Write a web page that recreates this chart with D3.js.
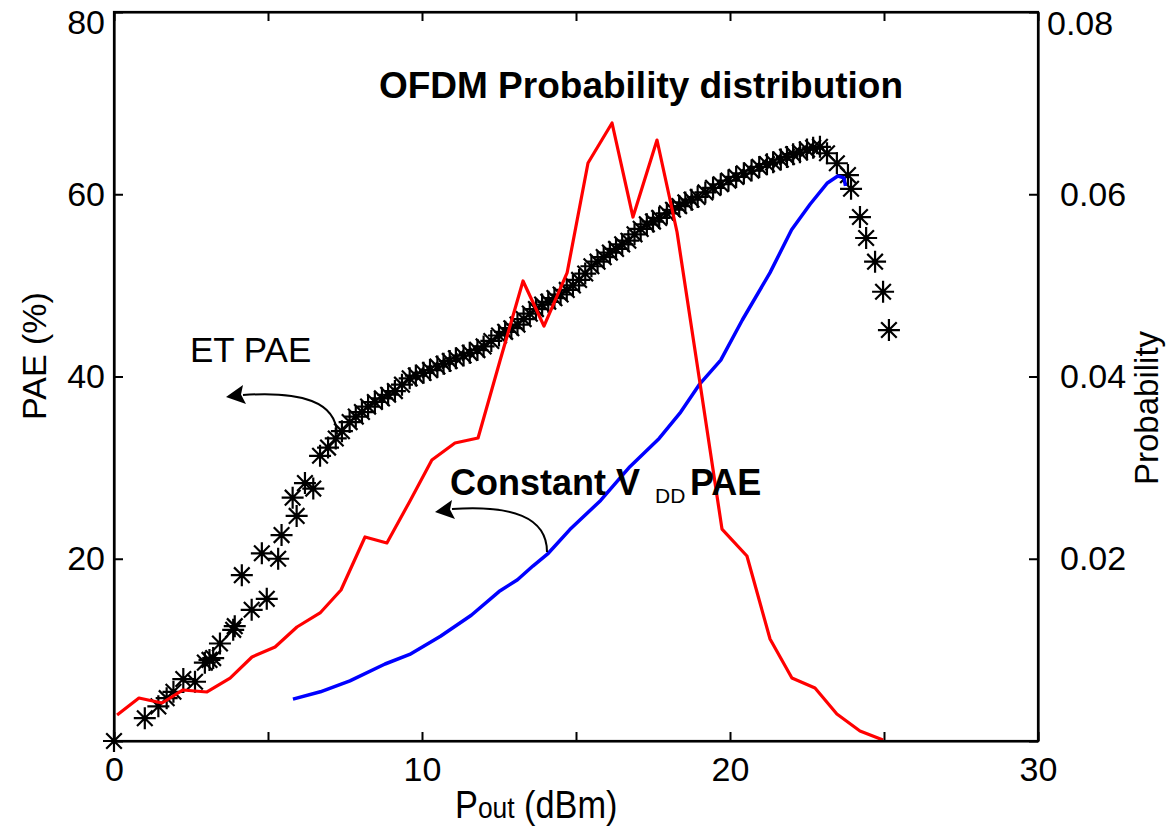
<!DOCTYPE html>
<html>
<head>
<meta charset="utf-8">
<script src="https://cdn.jsdelivr.net/npm/d3@7"></script>
<style>
  body { margin: 0; background: #fff; }
  svg { display: block; font-family: Arial, 'Liberation Sans', sans-serif; }
</style>
</head>
<body>
<div id="chart"></div>
<script>
// ET PAE measurement (stars)
const etPout = [0, 1.0, 1.44, 1.71, 1.93, 2.25, 2.63, 2.95, 3.1, 3.22, 3.44, 3.87, 3.92, 4.47, 4.96,
  4.15, 4.8, 5.33, 5.44, 5.93, 5.8, 6.2, 6.47,
  6.69, 6.95, 7.2, 7.4, 7.65, 7.85, 8.05, 8.25, 8.47, 8.7, 8.9, 9.12, 9.35, 9.6, 9.8, 10.05,
  10.26, 10.5, 10.7, 10.9, 11.1, 11.35, 11.55, 11.8, 12.0, 12.25, 12.5, 12.7, 12.9, 13.1,
  13.3, 13.5, 13.7, 13.9, 14.1, 14.3, 14.5, 14.7, 14.9, 15.1, 15.3, 15.5, 15.7, 15.9, 16.1,
  16.3, 16.5, 16.7, 16.9, 17.1, 17.3, 17.5, 17.7, 17.95, 18.15, 18.35, 18.55, 18.75, 18.95,
  19.2, 19.45, 19.7, 19.95, 20.2, 20.45, 20.7, 20.95, 21.2, 21.4, 21.65, 21.85, 22.05, 22.27,
  22.5, 22.7, 22.92, 23.15, 23.47, 23.83, 23.93, 24.22, 24.42, 24.71, 24.97, 25.16];
const etPae = [0, 2.5, 3.8, 4.7, 5.4, 6.8, 6.5, 8.6, 8.9, 9.1, 10.7, 12.2, 12.6, 14.4, 15.6,
  18.2, 20.6, 20.0, 22.6, 24.7, 26.7, 28.3, 27.7,
  31.3, 32.2, 33.2, 34.0, 35.0, 35.6, 36.1, 36.7, 37.2, 37.6, 38.0, 38.4, 39.1, 39.8, 40.1, 40.4,
  40.7, 41.1, 41.4, 41.7, 42.0, 42.3, 42.6, 42.9, 43.3, 43.9, 44.5, 44.9, 45.3, 45.7,
  46.3, 46.9, 47.4, 47.9, 48.2, 48.6, 49.0, 49.5, 50.0, 50.6, 51.3, 52.1, 52.6, 53.1, 53.6,
  54.0, 54.5, 54.9, 55.6, 56.2, 56.7, 57.0, 57.4, 57.9, 58.3, 58.7, 59.1, 59.4, 59.7,
  60.2, 60.7, 61.1, 61.5, 61.9, 62.3, 62.6, 63.0, 63.3, 63.5, 63.8, 64.1, 64.4, 64.6,
  64.9, 65.1, 65.2, 64.5, 63.4, 62.1, 60.6, 57.5, 55.2, 52.6, 49.3, 45.1];

// Constant VDD PAE (blue)
const vddPout = [5.81, 6.7, 7.66, 8.8, 9.6, 10.6, 11.6, 12.5, 13.1, 13.6, 14.1, 14.8, 15.8, 16.75,
  17.7, 18.4, 19.0, 19.7, 20.4, 21.3, 22.0, 22.6, 23.15, 23.5, 23.7, 23.75];
const vddPae = [4.6, 5.4, 6.6, 8.45, 9.5, 11.5, 13.8, 16.4, 17.7, 19.2, 20.6, 23.2, 26.4, 30.1,
  33.2, 36.1, 39.1, 41.8, 46.2, 51.4, 56.1, 58.9, 61.2, 62.0, 61.8, 60.9];

// OFDM probability distribution (red, right axis)
const probPout = [0.1, 0.81, 1.56, 2.24, 3.02, 3.77, 4.48, 5.23, 5.94, 6.69, 7.37, 8.15, 8.86, 9.61,
  10.32, 11.07, 11.82, 12.53, 13.28, 13.96, 14.71, 15.39, 16.17, 16.85, 17.63, 18.28, 19.03,
  19.74, 20.55, 21.3, 22.01, 22.76, 23.47, 24.22, 24.97];
const probValue = [0.00285, 0.00472, 0.00417, 0.0056, 0.00538, 0.00691, 0.00922, 0.01032, 0.01251,
  0.01405, 0.01657, 0.02239, 0.02173, 0.02634, 0.03084, 0.0327, 0.03325, 0.0417, 0.05048,
  0.04554, 0.05136, 0.06343, 0.06782, 0.0575, 0.06595, 0.05586, 0.03918, 0.02326, 0.0203,
  0.01119, 0.00691, 0.00582, 0.00296, 0.0011, 0.00011];

const xTicks = [0, 5, 10, 15, 20, 25, 30];
const paeTicks = [0, 20, 40, 60, 80];
const probTicks = [0, 0.02, 0.04, 0.06, 0.08];

const svgWidth = 1166;
const svgHeight = 830;
const margin = { top: 12, right: 128, bottom: 89, left: 114 };
const chartWidth = svgWidth - margin.left - margin.right;
const chartHeight = svgHeight - margin.top - margin.bottom;

const svg = d3.select('#chart').append('svg')
  .attr('width', svgWidth)
  .attr('height', svgHeight);

const chartGroup = svg.append('g')
  .attr('transform', `translate(${margin.left}, ${margin.top})`);

const xScale = d3.scaleLinear().domain([0, 30]).range([0, chartWidth]);
const yScale = d3.scaleLinear().domain([0, 80]).range([chartHeight, 0]);
const probScale = d3.scaleLinear().domain([0, 0.08]).range([chartHeight, 0]);

const tickLen = 9;
const fontSize = 34;

function styleAxis(g) {
  g.selectAll('path.domain').attr('stroke', '#000').attr('stroke-width', 2.2);
  g.selectAll('.tick line').attr('stroke', '#000').attr('stroke-width', 2);
  g.selectAll('.tick text').attr('font-size', fontSize).attr('fill', '#000')
    .attr('font-family', 'Arial, Liberation Sans, sans-serif');
}

// bottom axis
chartGroup.append('g')
  .attr('transform', `translate(0, ${chartHeight})`)
  .call(d3.axisBottom(xScale).tickValues(xTicks)
    .tickFormat((d) => (d % 10 === 0 ? d : ''))
    .tickSizeInner(-tickLen).tickSizeOuter(0).tickPadding(16))
  .call(styleAxis);

// top axis
chartGroup.append('g')
  .call(d3.axisTop(xScale).tickValues(xTicks).tickFormat('')
    .tickSizeInner(-tickLen).tickSizeOuter(0))
  .call(styleAxis);

// left axis
const leftAxis = chartGroup.append('g')
  .call(d3.axisLeft(yScale).tickValues(paeTicks)
    .tickFormat((d) => (d === 0 ? '' : d))
    .tickSizeInner(-tickLen).tickSizeOuter(0).tickPadding(9))
  .call(styleAxis);
leftAxis.selectAll('.tick text').filter((d) => d === 80).attr('dy', '0.62em');

// right axis
const rightAxis = chartGroup.append('g')
  .attr('transform', `translate(${chartWidth}, 0)`)
  .call(d3.axisRight(probScale).tickValues(probTicks)
    .tickFormat((d) => (d === 0 ? '' : d3.format('.2f')(d)))
    .tickSizeInner(-tickLen).tickSizeOuter(0).tickPadding(22))
  .call(styleAxis);
rightAxis.selectAll('.tick text').filter((d) => d === 0.08)
  .attr('dy', '0.65em').attr('x', 9);

// ET PAE stars
const r = 11;
const dg = 7.8;
const starPath = `M${-r},0H${r}M0,${-r}V${r}M${-dg},${-dg}L${dg},${dg}M${-dg},${dg}L${dg},${-dg}`;

chartGroup.append('g')
  .selectAll('path')
  .data(etPout.map((x, i) => ({ x: x, y: etPae[i] })))
  .enter()
  .append('path')
  .attr('transform', (d) => `translate(${xScale(d.x)}, ${yScale(d.y)})`)
  .attr('d', starPath)
  .attr('stroke', '#000')
  .attr('stroke-width', 2.2)
  .attr('fill', 'none');

// constant VDD PAE
const paeLine = d3.line()
  .x((d) => xScale(d[0]))
  .y((d) => yScale(d[1]));

chartGroup.append('path')
  .datum(vddPout.map((x, i) => [x, vddPae[i]]))
  .attr('d', paeLine)
  .attr('fill', 'none')
  .attr('stroke', '#0000ff')
  .attr('stroke-width', 3.5)
  .attr('stroke-linejoin', 'round');

// probability
const probLine = d3.line()
  .x((d) => xScale(d[0]))
  .y((d) => probScale(d[1]));

chartGroup.append('path')
  .datum(probPout.map((x, i) => [x, probValue[i]]))
  .attr('d', probLine)
  .attr('fill', 'none')
  .attr('stroke', '#ff0000')
  .attr('stroke-width', 3.2)
  .attr('stroke-linejoin', 'round');

// box edges on top of the data
chartGroup.append('rect')
  .attr('width', chartWidth)
  .attr('height', chartHeight)
  .attr('fill', 'none')
  .attr('stroke', '#000')
  .attr('stroke-width', 2.2);

// annotations
svg.append('text')
  .attr('x', 641)
  .attr('y', 98)
  .attr('text-anchor', 'middle')
  .attr('font-size', 37)
  .attr('font-weight', 'bold')
  .text('OFDM Probability distribution');

svg.append('text')
  .attr('x', 190)
  .attr('y', 362)
  .attr('font-size', 35)
  .text('ET PAE');

const vddLabel = svg.append('text')
  .attr('y', 495)
  .attr('font-size', 36)
  .attr('font-weight', 'bold');
vddLabel.append('tspan').attr('x', 450).text('Constant V');
vddLabel.append('tspan').attr('x', 655).attr('y', 503)
  .attr('font-size', 21).attr('font-weight', 'normal').text('DD');
vddLabel.append('tspan').attr('x', 690).attr('y', 495).text('PAE');

function drawArrow(d, tip, backTop, backBottom) {
  svg.append('path')
    .attr('d', d)
    .attr('fill', 'none')
    .attr('stroke', '#000')
    .attr('stroke-width', 2);
  svg.append('path')
    .attr('d', `M${tip[0]},${tip[1]}L${backTop[0]},${backTop[1]}L${backTop[0] - 2},${(backTop[1] + backBottom[1]) / 2}L${backBottom[0]},${backBottom[1]}Z`)
    .attr('fill', '#000');
}

drawArrow('M337,434C336,402 302,391 243,395', [226, 397], [243, 385], [246, 404]);
drawArrow('M547,552C547,517 512,505 452,509', [435, 512], [452, 500], [455, 519]);

// axis titles
svg.append('text')
  .attr('transform', 'translate(46, 356) rotate(-90)')
  .attr('text-anchor', 'middle')
  .attr('font-size', 34)
  .text('PAE (%)');

svg.append('text')
  .attr('transform', 'translate(1158, 408) rotate(-90)')
  .attr('text-anchor', 'middle')
  .attr('font-size', 33)
  .text('Probability');

const xLabel = svg.append('text')
  .attr('transform', 'translate(455, 818) scale(0.88, 1)')
  .attr('font-size', 39);
xLabel.append('tspan').text('P');
xLabel.append('tspan').attr('font-size', 30).text('out');
xLabel.append('tspan').text(' (dBm)');
</script>
</body>
</html>
